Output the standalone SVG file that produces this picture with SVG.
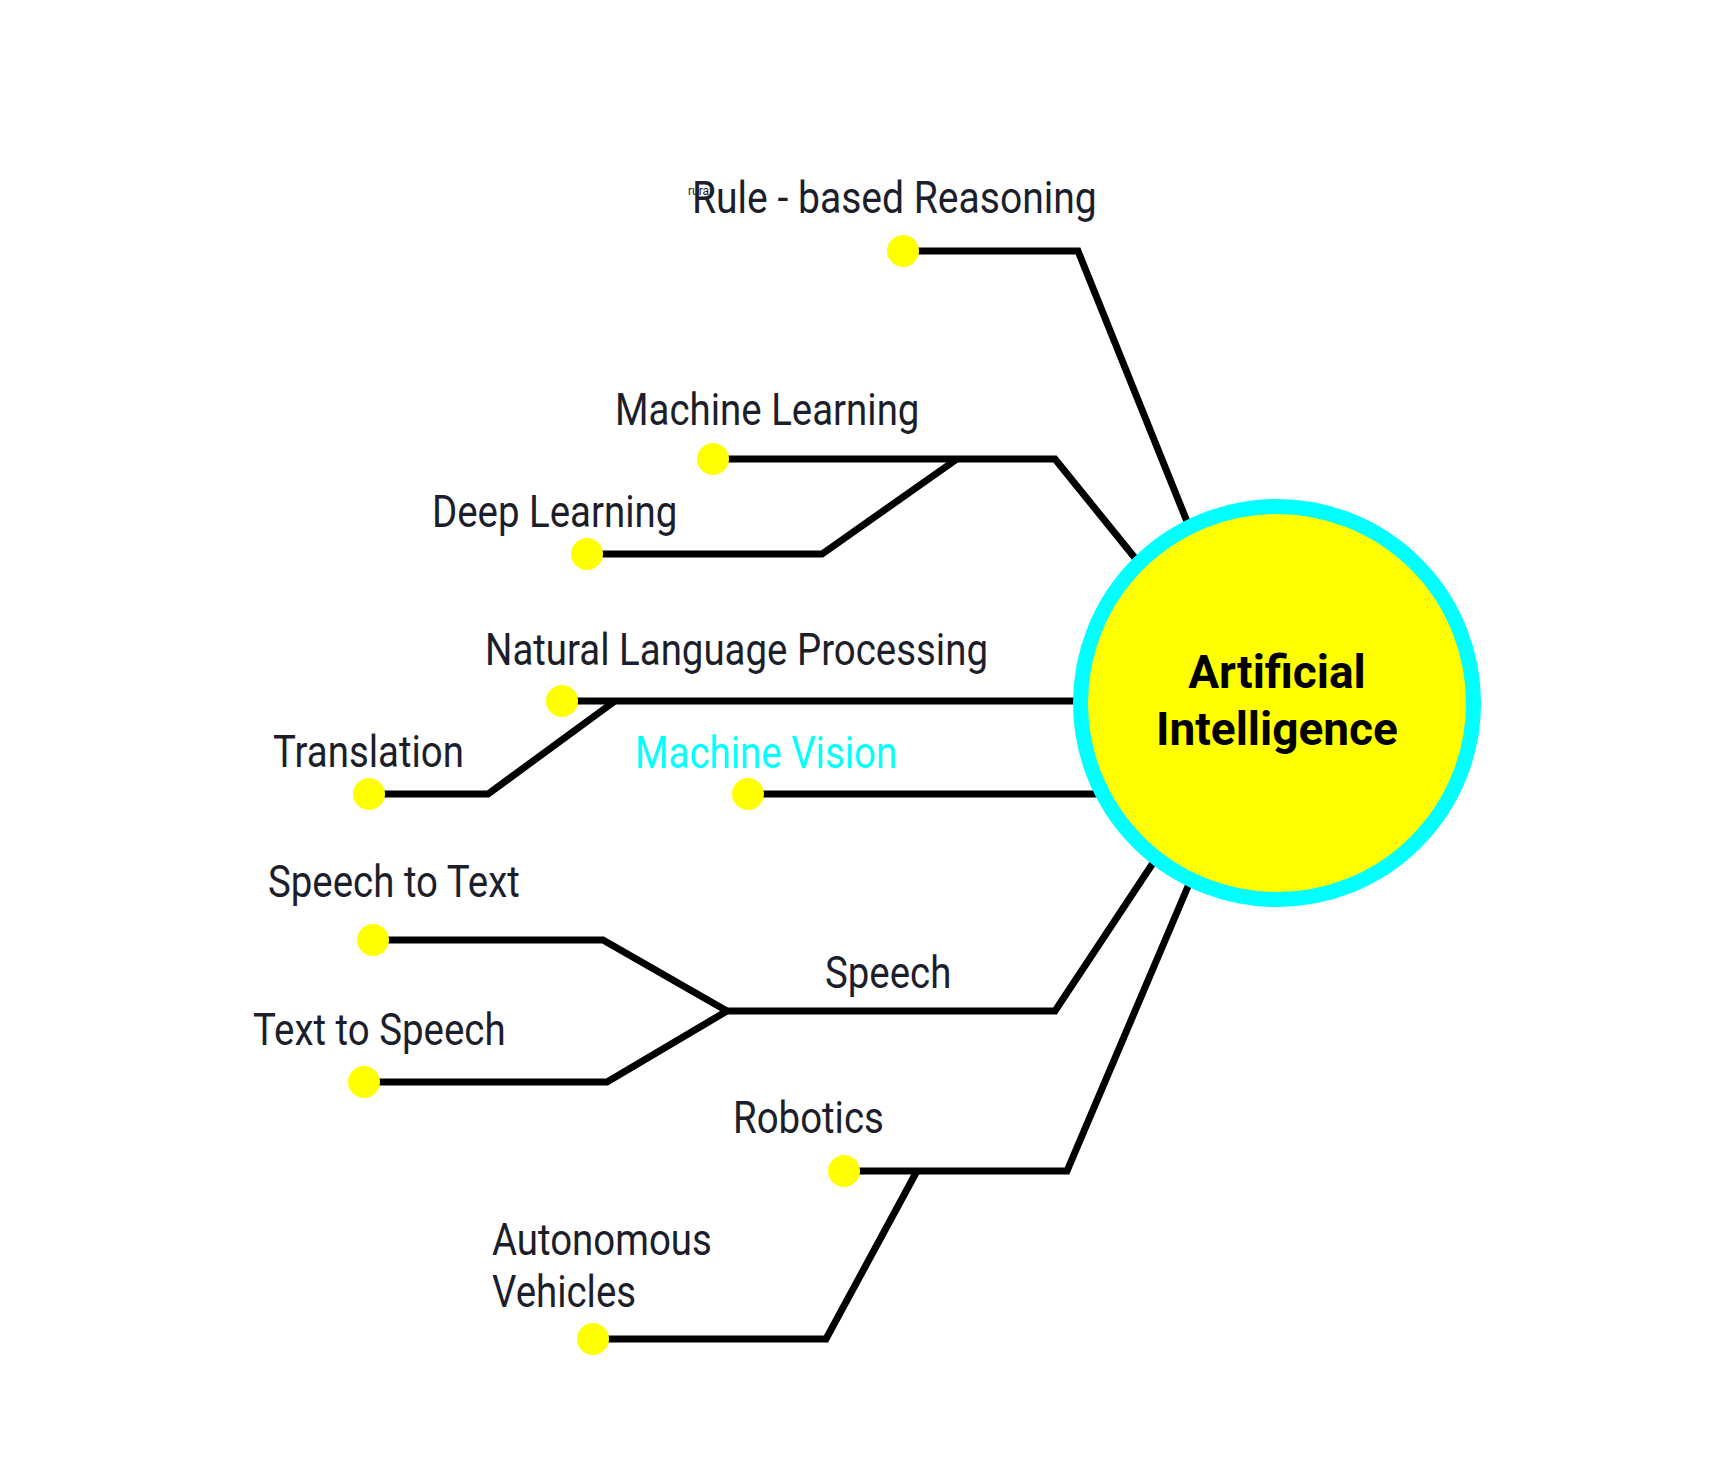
<svg xmlns="http://www.w3.org/2000/svg" width="1733" height="1460" viewBox="0 0 1733 1460">
<style>
  .lbl { font-family: Roboto, "Liberation Sans", sans-serif; font-size: 44px; fill: #1c1e2b; }
  .mv { fill: #00ffff; }
  .conn { fill: none; stroke: #000000; stroke-width: 7; stroke-linejoin: miter; }
  .dot { fill: #ffff00; }
  .hub { fill: #ffff00; stroke: #00ffff; stroke-width: 15; }
  .hubtxt { font-family: Roboto, "Liberation Sans", sans-serif; font-size: 46px; font-weight: bold; fill: #000000; text-anchor: middle; }
  .tiny { font-family: Roboto, "Liberation Sans", sans-serif; font-size: 12px; fill: #1c1e2b; }
</style>
<rect x="0" y="0" width="1733" height="1460" fill="#ffffff"/>
<g id="connectors">
  <path class="conn" d="M903,251 H1078 L1186,519 L1218,599"/>
  <path class="conn" d="M713,459 H1055 L1135,558 L1175,608"/>
  <path class="conn" d="M587,554 H822 L957,459"/>
  <path class="conn" d="M562,701 H1150"/>
  <path class="conn" d="M369,794 H488 L615,701"/>
  <path class="conn" d="M748,794 H1150"/>
  <path class="conn" d="M727,1011 H1055 L1153,863 L1190,807"/>
  <path class="conn" d="M373,940 H603 L727,1011"/>
  <path class="conn" d="M364,1082 H607 L727,1011"/>
  <path class="conn" d="M844,1171 H1067 L1189,884 L1215,823"/>
  <path class="conn" d="M593,1339 H826 L917,1171"/>
</g>
<g id="node-ai">
  <circle class="hub" cx="1277" cy="703" r="196.5"/>
  <text class="hubtxt" x="1277" y="688">Artificial</text>
  <text class="hubtxt" x="1277" y="745">Intelligence</text>
</g>
<g id="node-rule">
  <circle class="dot" cx="903" cy="251" r="16"/>
  <text class="lbl" transform="translate(692,213) scale(0.888,1)">Rule - based Reasoning</text>
  <text class="tiny" x="688" y="195">rural</text>
</g>
<g id="node-ml">
  <circle class="dot" cx="713" cy="459" r="16"/>
  <text class="lbl" transform="translate(615,425) scale(0.873,1)">Machine Learning</text>
</g>
<g id="node-dl">
  <circle class="dot" cx="587" cy="554" r="16"/>
  <text class="lbl" transform="translate(432,527) scale(0.873,1)">Deep Learning</text>
</g>
<g id="node-nlp">
  <circle class="dot" cx="562" cy="701" r="16"/>
  <text class="lbl" transform="translate(485,665) scale(0.873,1)">Natural Language Processing</text>
</g>
<g id="node-translation">
  <circle class="dot" cx="369" cy="794" r="16"/>
  <text class="lbl" transform="translate(273,767) scale(0.873,1)">Translation</text>
</g>
<g id="node-mv">
  <circle class="dot" cx="748" cy="794" r="16"/>
  <text class="lbl mv" transform="translate(635,768) scale(0.873,1)">Machine Vision</text>
</g>
<g id="node-speech">
  <text class="lbl" transform="translate(825,988) scale(0.873,1)">Speech</text>
</g>
<g id="node-stt">
  <circle class="dot" cx="373" cy="940" r="16"/>
  <text class="lbl" transform="translate(268,897) scale(0.873,1)">Speech to Text</text>
</g>
<g id="node-tts">
  <circle class="dot" cx="364" cy="1082" r="16"/>
  <text class="lbl" transform="translate(253,1045) scale(0.873,1)">Text to Speech</text>
</g>
<g id="node-robotics">
  <circle class="dot" cx="844" cy="1171" r="16"/>
  <text class="lbl" transform="translate(733,1133) scale(0.873,1)">Robotics</text>
</g>
<g id="node-av">
  <circle class="dot" cx="593" cy="1339" r="16"/>
  <text class="lbl" transform="translate(492,1255) scale(0.873,1)">Autonomous</text>
  <text class="lbl" transform="translate(492,1307) scale(0.873,1)">Vehicles</text>
</g>
</svg>
